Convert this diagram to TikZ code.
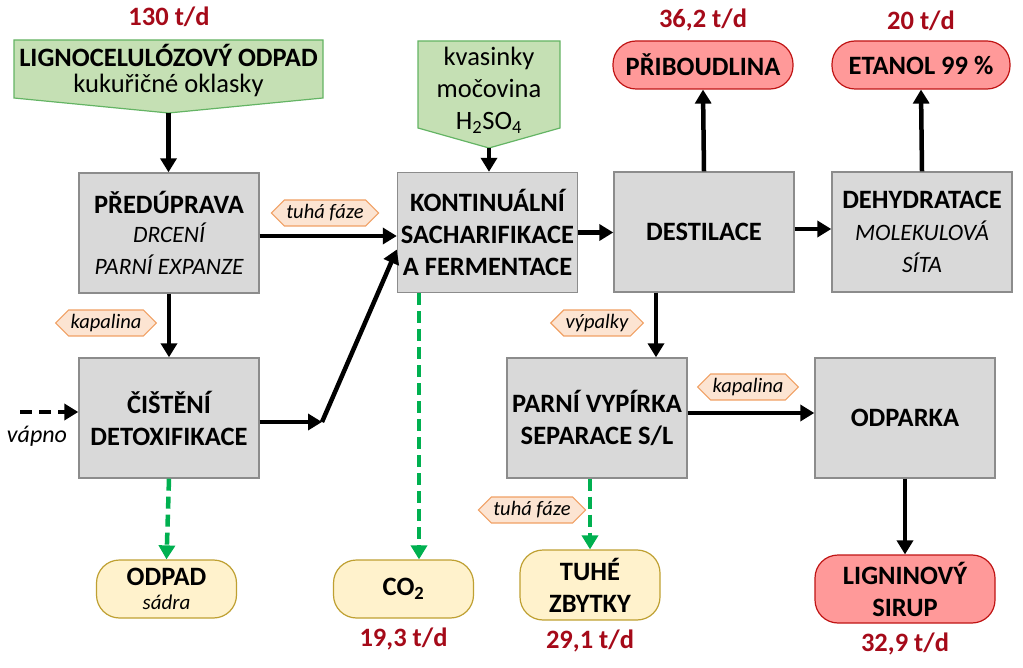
\documentclass[tikz,border=0pt]{standalone}
\usepackage{fontspec}
\setmainfont{Carlito}
\usetikzlibrary{shapes.symbols}
\usetikzlibrary{positioning}
\usetikzlibrary{arrows.meta}
\definecolor{boxfill}{RGB}{217,217,217}
\definecolor{boxline}{RGB}{140,140,140}
\definecolor{infill}{RGB}{197,224,180}
\definecolor{inline}{RGB}{100,180,100}
\definecolor{redfill}{RGB}{255,153,153}
\definecolor{redline}{RGB}{192,20,20}
\definecolor{yelfill}{RGB}{255,242,204}
\definecolor{yelline}{RGB}{191,160,50}
\definecolor{tagfill}{RGB}{252,228,210}
\definecolor{tagline}{RGB}{240,160,100}
\definecolor{valred}{RGB}{165,10,25}
\definecolor{flowgreen}{RGB}{0,176,80}
\tikzset{
    proc/.style = {rectangle, draw=boxline, fill=boxfill, line width=1.4pt, minimum width=180pt, minimum height=120pt, align=center, font=\bfseries\fontsize{26.5}{32}\selectfont},
    inbox/.style = {draw=inline, fill=infill, line width=1.2pt},
    intext/.style = {align=center, font=\fontsize{26.5}{32}\selectfont},
    prodr/.style = {rectangle, rounded corners=23pt, draw=redline, fill=redfill, line width=1.2pt, align=center, font=\bfseries\fontsize{26.5}{32}\selectfont},
    prody/.style = {rectangle, rounded corners=23pt, draw=yelline, fill=yelfill, line width=1.2pt, align=center, font=\bfseries\fontsize{26.5}{32}\selectfont},
    tag/.style = {signal, signal to=east and west, draw=tagline, fill=tagfill, line width=1.2pt, inner xsep=2pt, inner ysep=1pt, minimum height=26pt, font=\itshape\fontsize{20.5}{24}\selectfont},
    val/.style = {text=valred, label distance=6pt, font=\bfseries\fontsize{26.5}{30}\selectfont},
    edgen/.style = {-{Triangle[width=16pt,length=14pt]}, line width=4.5pt},
    edgeg/.style = {edgen, draw=flowgreen, dash pattern=on 12pt off 6pt}, % waste
    edged/.style = {edgen, dash pattern=on 12pt off 7pt}, % dosing
}
\newcommand{\I}[1]{{\mdseries\itshape\fontsize{23.5}{30}\selectfont #1}}

\begin{document}
\begin{tikzpicture}[x=1pt,y=-1pt]
\useasboundingbox (0,0) rectangle (1023,668);
% inputs
\draw[inbox] (14,40) -- (323,40) -- (323,98) -- (168.5,113) -- (14,98) -- cycle;
\coordinate (ligtip) at (168.5,113);
\node[intext] at (168.5,71) (lig) {\textbf{LIGNOCELULÓZOVÝ ODPAD}\\[-6pt] kukuřičné oklasky};
\node[val] at (169,17) (v130) {130 t/d};
\draw[inbox] (418,41) -- (560,41) -- (560,128) -- (489,148) -- (418,128) -- cycle;
\coordinate (kvastip) at (489,148);
\node[intext] at (489,90) (kvas) {kvasinky\\ močovina\\ H\textsubscript{2}SO\textsubscript{4}};
%
\node[proc] at (169,233) (prep) {PŘEDÚPRAVA\\[-3pt] \I{DRCENÍ}\\ \I{PARNÍ EXPANZE}};
\node[proc] at (169,418) (cist) {ČIŠTĚNÍ\\ DETOXIFIKACE};
\node[proc] at (487.5,232.5) (kont) {KONTINUÁLNÍ\\ SACHARIFIKACE\\ A FERMENTACE};
\node[proc] at (704,232) (dest) {DESTILACE};
\node[proc] at (922,232) (dehy) {DEHYDRATACE\\ \I{MOLEKULOVÁ}\\ \I{SÍTA}};
\node[proc] at (597,418) (parni) {PARNÍ VYPÍRKA\\ SEPARACE S/L};
\node[proc] at (905,418) (odp) {ODPARKA};
%
\node[prodr, minimum width=180pt, minimum height=48pt, label={[val]above:{36,2 t/d}}] at (703,65) (prib) {PŘIBOUDLINA};
\node[prodr, minimum width=178pt, minimum height=48pt, label={[val]above:{20 t/d}}] at (921,65) (etan) {ETANOL 99 \%};
\node[prodr, minimum width=180pt, minimum height=68pt, label={[val]below:{32,9 t/d}}] at (905,589) (lign) {LIGNINOVÝ\\ SIRUP};
\node[prody, minimum width=140pt, minimum height=58pt] at (166.5,589) (odpad) {ODPAD\\[-8pt] {\mdseries\itshape\fontsize{21}{24}\selectfont sádra}};
\node[prody, minimum width=140pt, minimum height=58pt, label={[val]below:{19,3 t/d}}] at (403.5,589) (co2) {CO\textsubscript{2}};
\node[prody, minimum width=140pt, minimum height=70pt, label={[val]below:{29,1 t/d}}] at (590,585) (tuhe) {TUHÉ\\ ZBYTKY};
%
\node[tag] at (325,213) (tag1) {tuhá fáze};
\node[tag] at (106,323) (tag2) {kapalina};
\node[tag] at (597,323) (tag3) {výpalky};
\node[tag] at (748,387) (tag4) {kapalina};
\node[tag] at (532,510) (tag5) {tuhá fáze};
\node[font=\itshape\fontsize{24}{28}\selectfont] at (37,436) (vapno) {vápno};
\coordinate (lime) at (20,412);
\coordinate (kink) at (322,422);
%
\draw[edgen] (ligtip) -- (ligtip |- prep.north);
\draw[edgen] (kvastip) -- (kvastip |- kont.north);
\draw[edgen] (prep.south) -- (cist.north);
\draw[edgen] ([yshift=-3pt]prep.east) -- ([yshift=-3pt]prep.east -| kont.west);
\draw[edgen] ([yshift=-4pt]cist.east) -- (kink);
\draw[edgen] (kink) -- ([yshift=-17pt]kont.west);
\draw[edged] (lime) -- (lime -| cist.west);
\draw[edgen] (kont.east) -- (kont.east -| dest.west);
\draw[edgen] (dest.north) -- (prib.south);
\draw[edgen] ([yshift=3pt]dest.east) -- ([yshift=3pt]dest.east -| dehy.west);
\draw[edgen] (dehy.north) -- (etan.south);
\draw[edgen] ([xshift=-48pt]dest.south) -- ([xshift=-48pt]dest.south |- parni.north);
\draw[edgen] ([yshift=5pt]parni.east) -- ([yshift=5pt]parni.east -| odp.west);
\draw[edgen] (odp.south) -- (odp.south |- lign.north);
\draw[edgeg] (cist.south) -- (odpad.north);
\draw[edgeg] ([xshift=-68.5pt]kont.south) -- ([xshift=-68.5pt]kont.south |- co2.north);
\draw[edgeg] ([xshift=-7pt]parni.south) -- ([xshift=-7pt]parni.south |- tuhe.north);

\end{tikzpicture}
\end{document}
